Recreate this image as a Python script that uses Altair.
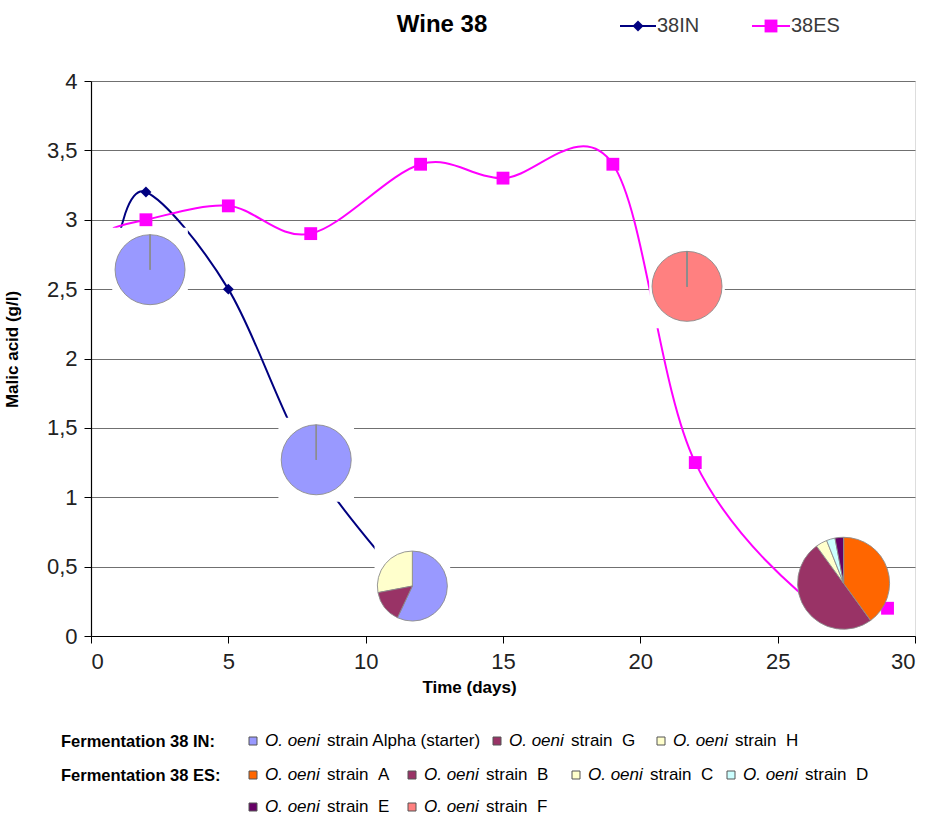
import altair as alt
import pandas as pd

# ---- malic acid (g/l) against time (days) ----
IN_DAYS = [1, 2, 5, 8, 12]
IN_MALIC = [2.85, 3.2, 2.5, 1.25, 0.25]
ES_DAYS = [0.8, 2, 5, 8, 12, 15, 19, 22, 27, 29]
ES_MALIC = [2.94, 3.0, 3.1, 2.9, 3.4, 3.3, 3.4, 1.25, 0.12, 0.2]

# ---- strain composition pies (share of isolates, %) ----
PIE_IDS = ["IN-1", "IN-2", "IN-3", "ES-1", "ES-2"]
PIE_DAY = [2.15, 8.2, 11.7, 21.7, 27.4]
PIE_MALIC = [2.64, 1.27, 0.36, 2.52, 0.38]
IN_STRAINS = ["Alpha (starter)", "G", "H"]
ES_STRAINS = ["A", "B", "C", "D", "E", "F"]
PIE_SHARES = {
    "IN-1": [100, 0, 0],
    "IN-2": [100, 0, 0],
    "IN-3": [57, 15, 28],
    "ES-1": [0, 0, 0, 0, 0, 100],
    "ES-2": [40, 50, 4, 3, 3, 0],
}
IN_COLORS = ["#9999FF", "#993366", "#FFFFCC"]
ES_COLORS = ["#FF6600", "#993366", "#FFFFCC", "#CCFFFF", "#660066", "#FF8080"]

# ---- page geometry ----
LEFT, TOP = 91, 81
PLOT_W, PLOT_H = 824, 555
FONT = "Liberation Sans, Arial, sans-serif"

series = pd.concat([
    pd.DataFrame({"series": "38IN", "day": IN_DAYS, "malic": IN_MALIC}),
    pd.DataFrame({"series": "38ES", "day": ES_DAYS, "malic": ES_MALIC}),
])

rows = []
for pid, d, m in zip(PIE_IDS, PIE_DAY, PIE_MALIC):
    names = IN_STRAINS if pid.startswith("IN") else ES_STRAINS
    prefix = pid.split("-")[0]
    for i, (name, share) in enumerate(zip(names, PIE_SHARES[pid])):
        rows.append({"pie": pid, "order": i, "strain": f"{prefix} {name}",
                     "share": share, "day": d, "malic": m})
pies = pd.DataFrame(rows)
strain_domain = [f"IN {s}" for s in IN_STRAINS] + [f"ES {s}" for s in ES_STRAINS]
strain_range = IN_COLORS + ES_COLORS

x_enc = alt.X(
    "day:Q",
    scale=alt.Scale(domain=[0, 30], nice=False),
    axis=alt.Axis(
        values=[0, 5, 10, 15, 20, 25, 30], grid=False, title="Time (days)",
        titleFont=FONT, titleFontSize=17, titleFontWeight="bold",
        titleX=378, titleY=43, titleColor="#000",
        labelFont=FONT, labelFontSize=22, labelColor="#222", labelPadding=8,
        tickSize=7, tickColor="#000", domainColor="#000", domainWidth=1.2,
    ),
)
y_enc = alt.Y(
    "malic:Q",
    scale=alt.Scale(domain=[0, 4], nice=False),
    axis=alt.Axis(
        values=[0, 0.5, 1, 1.5, 2, 2.5, 3, 3.5, 4], grid=True,
        gridColor="#707070", gridWidth=1.2,
        labelExpr="replace(toString(datum.value), '.', ',')",
        title="Malic acid (g/l)", titleFont=FONT, titleFontSize=17,
        titleFontWeight="bold", titleX=-70, titleY=268, titleColor="#000",
        labelFont=FONT, labelFontSize=22, labelColor="#222", labelPadding=7,
        tickSize=7, tickColor="#000", domainColor="#000", domainWidth=1.2,
    ),
)

base = alt.Chart(series)

line_in = base.transform_filter("datum.series == '38IN'").mark_line(
    color="#000080", strokeWidth=2, interpolate="cardinal"
).encode(x=x_enc, y=y_enc, order="day:Q")
line_es = base.transform_filter("datum.series == '38ES'").mark_line(
    color="#FF00FF", strokeWidth=2, interpolate="cardinal"
).encode(x=x_enc, y=y_enc, order="day:Q")

pts_in = base.transform_filter("datum.series == '38IN' && datum.day >= 2").mark_point(
    shape="diamond", filled=True, color="#000080", size=120, opacity=1
).encode(x=x_enc, y=y_enc)
pts_es = base.transform_filter("datum.series == '38ES' && datum.day >= 2").mark_point(
    shape="square", filled=True, color="#FF00FF", size=165, opacity=1
).encode(x=x_enc, y=y_enc)

# white backing behind each pie (hides the curve and gridlines around it)
pie_centres = alt.Chart(pd.DataFrame({"pie": PIE_IDS, "day": PIE_DAY, "malic": PIE_MALIC}))
backing = pie_centres.transform_calculate(
    box="datum.pie == 'ES-2' ? 8836 : 7056"
).mark_point(
    shape="M-0.9,-1L0.9,-1L0.9,1L-0.9,1Z", filled=True, color="white", opacity=1,
    strokeWidth=0,
).encode(x=x_enc, y=y_enc, size=alt.Size("box:Q", scale=None, legend=None))

pie_base = alt.Chart(pies).transform_joinaggregate(
    total="sum(share)", groupby=["pie"]
).transform_stack(
    stack="share", as_=["s0", "s1"], groupby=["pie"], sort=[alt.SortField("order")]
).transform_calculate(
    t0="2 * PI * datum.s0 / datum.total", t1="2 * PI * datum.s1 / datum.total"
)
pie_enc = dict(
    x=x_enc, y=y_enc,
    theta=alt.Theta("t0:Q", scale=None), theta2="t1:Q",
    color=alt.Color("strain:N", scale=alt.Scale(domain=strain_domain, range=strain_range),
                    legend=None),
    # empty slices are drawn last so their edge stays visible
    order=alt.Order("share:Q", sort="descending"),
)
pies_small = pie_base.transform_filter("datum.pie != 'ES-2'").mark_arc(
    radius=35, stroke="#8c8c8c", strokeWidth=0.9
).encode(**pie_enc)
pies_big = pie_base.transform_filter("datum.pie == 'ES-2'").mark_arc(
    radius=46, stroke="#8c8c8c", strokeWidth=0.9
).encode(**pie_enc)

# ---- header: title and series key ----
px = alt.X("px:Q", scale=None, axis=None)
py = alt.Y("py:Q", scale=None, axis=None)

title = alt.Chart(pd.DataFrame({"txt": ["Wine 38"], "px": [442 - LEFT], "py": [25 - TOP]})).mark_text(
    font=FONT, fontSize=24, fontWeight="bold", color="#000", align="center", baseline="middle"
).encode(x=px, y=py, text="txt:N")
key_txt = alt.Chart(pd.DataFrame({
    "txt": ["38IN", "38ES"], "px": [657 - LEFT, 791 - LEFT], "py": [26 - TOP, 26 - TOP],
})).mark_text(
    font=FONT, fontSize=20, color="#3a3a3a", align="left", baseline="middle"
).encode(x=px, y=py, text="txt:N")

key_lines = pd.DataFrame({
    "series": ["38IN", "38ES"], "ax": [620, 752], "ax2": [656, 790], "ay": [26, 26],
    "mx": [638, 771], "col": ["#000080", "#FF00FF"],
})
key_lines["px"] = key_lines["ax"] - LEFT
key_lines["px2"] = key_lines["ax2"] - LEFT
key_lines["py"] = key_lines["ay"] - TOP
key_lines["pmx"] = key_lines["mx"] - LEFT
key_rule = alt.Chart(key_lines).mark_rule(strokeWidth=2).encode(
    x=px, x2="px2:Q", y=py,
    color=alt.Color("col:N", scale=None, legend=None),
)
key_in = alt.Chart(key_lines.iloc[:1]).mark_point(
    shape="diamond", filled=True, color="#000080", size=120, opacity=1
).encode(x=alt.X("pmx:Q", scale=None, axis=None), y=py)
key_es = alt.Chart(key_lines.iloc[1:]).mark_point(
    shape="square", filled=True, color="#FF00FF", size=165, opacity=1
).encode(x=alt.X("pmx:Q", scale=None, axis=None), y=py)

# ---- strain key under the plot ----
groups = alt.Chart(pd.DataFrame({
    "txt": ["Fermentation 38 IN:", "Fermentation 38 ES:"],
    "px": [61 - LEFT, 61 - LEFT], "py": [742 - TOP, 776 - TOP],
})).mark_text(
    font=FONT, fontSize=16.5, fontWeight="bold", color="#000", align="left", baseline="middle"
).encode(x=px, y=py, text="txt:N")

NB = "\u00a0"
key_items = pd.DataFrame({
    "strain": strain_domain,
    "label": [f"{NB}strain Alpha (starter)", f"strain{NB * 2}G", f"strain{NB * 2}H",
              f"strain{NB * 2}A", f"strain{NB * 2}B", f"strain{NB * 2}C",
              f"strain{NB * 2}D", f"strain{NB * 2}E", f"strain{NB * 2}F"],
    "sx": [253, 497, 661, 253, 412, 576, 731, 253, 412],
    "sy": [741, 741, 741, 775, 775, 775, 775, 807, 807],
})
key_items["px"] = key_items["sx"] - LEFT
key_items["py"] = key_items["sy"] - TOP
key_items["tx"] = key_items["px"] + 12
key_items["rx"] = key_items["px"] + 74
key_items["species"] = "O. oeni"
key_src = alt.Chart(key_items)
swatches = key_src.mark_point(
    shape="square", filled=True, size=64, stroke="#555", strokeWidth=1, opacity=1
).encode(
    x=px, y=py,
    fill=alt.Fill("strain:N", scale=alt.Scale(domain=strain_domain, range=strain_range),
                  legend=None),
)
species = key_src.mark_text(
    font=FONT, fontSize=17, fontStyle="italic", color="#000", align="left", baseline="middle"
).encode(x=alt.X("tx:Q", scale=None, axis=None), y=py, text="species:N")
strain_lbl = key_src.mark_text(
    font=FONT, fontSize=17, color="#000", align="left", baseline="middle"
).encode(x=alt.X("rx:Q", scale=None, axis=None), y=py, text="label:N")

chart = alt.layer(
    line_in, line_es, backing, pts_in, pts_es, pies_small, pies_big,
    title, key_txt, key_rule, key_in, key_es, groups, swatches, species, strain_lbl,
).resolve_scale(color="independent", fill="independent").properties(
    width=PLOT_W, height=PLOT_H,
    autosize=alt.AutoSizeParams(type="none"),
    padding={"left": LEFT, "top": TOP, "right": 925 - LEFT - PLOT_W, "bottom": 816 - TOP - PLOT_H},
).configure_view(
    stroke="#808080", strokeWidth=1
).configure(background="white")

chart.save("out.html", embed_options={"renderer": "svg", "actions": False})
